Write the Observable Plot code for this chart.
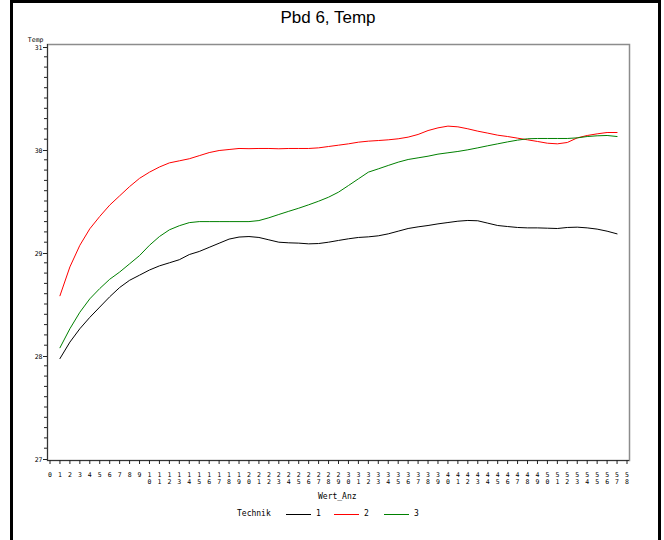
<!DOCTYPE html>
<html><head><meta charset="utf-8">
<script src="https://cdn.jsdelivr.net/npm/d3@7"></script>
<script src="https://cdn.jsdelivr.net/npm/@observablehq/plot@0.6"></script>
<style>
html,body{margin:0;padding:0;background:#fff;}
#wrap{position:relative;width:664px;height:540px;overflow:hidden;background:#fff;}
#wrap svg{position:absolute;left:0;top:0;}
.border{position:absolute;left:10px;top:0;width:645px;height:560px;border:3px solid #000;border-bottom:none;}
.title{position:absolute;left:0;width:656px;top:8px;text-align:center;font:17px "Liberation Sans",Arial,sans-serif;color:#000;}
.lab{position:absolute;font:8px "DejaVu Sans Mono",monospace;white-space:pre;color:#000;line-height:8px;}
.key{position:absolute;height:0;width:25px;border-top:1.2px solid #000;}
</style></head><body><div id="wrap"></div>
<script>
// ---- data ----
const titleText = "Pbd 6, Temp";
const xLabel = "Wert_Anz";
const yLabel = "Temp";
const legendTitle = "Technik";
const series = ["1", "2", "3"];
const seriesColors = ["#000000", "#ff0000", "#008000"];

const wertAnz = [1,2,3,4,5,6,7,8,9,10,11,12,13,14,15,16,17,18,19,20,21,22,23,24,25,26,27,28,29,30,31,32,33,34,35,36,37,38,39,40,41,42,43,44,45,46,47,48,49,50,51,52,53,54,55,56,57];

const temp1 = [27.97,28.13,28.26,28.37,28.47,28.57,28.66,28.73,28.78,28.83,28.87,28.90,28.93,28.98,29.01,29.05,29.09,29.13,29.15,29.155,
  29.146,29.123,29.10,29.094,29.091,29.084,29.087,29.10,29.117,29.133,29.146,29.152,29.162,29.181,29.207,29.233,29.249,29.262,29.278,29.291,
  29.304,29.311,29.308,29.285,29.262,29.252,29.243,29.239,29.239,29.236,29.233,29.243,29.246,29.239,29.227,29.207,29.181];

const temp2 = [28.58,28.86,29.07,29.23,29.35,29.46,29.55,29.64,29.72,29.78,29.83,29.87,29.89,29.91,29.94,29.97,29.99,30.00,30.01,30.008,
  30.01,30.01,30.007,30.01,30.01,30.01,30.016,30.029,30.042,30.055,30.071,30.081,30.087,30.094,30.104,30.12,30.146,30.184,30.21,30.227,
  30.22,30.201,30.178,30.159,30.139,30.126,30.11,30.094,30.078,30.061,30.055,30.068,30.113,30.136,30.152,30.165,30.165];

const temp3 = [28.075,28.26,28.42,28.55,28.65,28.74,28.81,28.89,28.97,29.07,29.155,29.22,29.26,29.29,29.30,29.30,29.30,29.30,29.30,29.30,
  29.31,29.337,29.369,29.40,29.43,29.463,29.498,29.537,29.586,29.65,29.715,29.78,29.812,29.845,29.877,29.903,29.919,29.935,29.955,29.968,
  29.981,29.997,30.016,30.036,30.055,30.074,30.091,30.104,30.107,30.107,30.107,30.107,30.113,30.126,30.133,30.136,30.126];

const xTicks = [0,1,2,3,4,5,6,7,8,9,10,11,12,13,14,15,16,17,18,19,20,21,22,23,24,25,26,27,28,29,30,31,32,33,34,35,36,37,38,39,40,41,42,43,44,45,46,47,48,49,50,51,52,53,54,55,56,57,58];
const yMajor = [27, 28, 29, 30, 31];

// ---- build ----
const values = [temp1, temp2, temp3];
const rows = [];
series.forEach((s, si) => wertAnz.forEach((x, i) => rows.push({x, y: values[si][i], s})));
const yMinor = d3.range(270, 311).map(d => d / 10).filter(d => !yMajor.includes(d));
const mono = "DejaVu Sans Mono";

const chart = Plot.plot({
  width: 664, height: 540,
  marginLeft: 47, marginRight: 35, marginTop: 44, marginBottom: 80,
  x: {domain: [0, 58], insetLeft: 2.5, insetRight: 2.5, axis: null},
  y: {domain: [27, 31], insetTop: 2, insetBottom: 2, axis: null},
  color: {domain: series, range: seriesColors},
  style: {background: "transparent", overflow: "visible"},
  marks: [
    Plot.frame({stroke: "#8c8c8c", strokeWidth: 1.5}),
    Plot.ruleX([0], {dx: -2.5, stroke: "#333"}),
    Plot.ruleY([27], {dy: 2, stroke: "#333"}),
    Plot.axisY(yMinor, {tickSize: 3, tickFormat: () => "", label: null, stroke: "#222"}),
    Plot.axisY(yMajor, {tickSize: 4, tickPadding: 1, label: null, stroke: "#222", fontSize: 6.5, fontFamily: mono, dy: 1, tickFormat: d => String(d)}),
    Plot.text([yLabel], {frameAnchor: "top-left", dx: -4, dy: -3, textAnchor: "end", lineAnchor: "bottom", fontSize: 6.5, fontFamily: mono}),
    Plot.axisX(xTicks, {tickSize: 4, tickFormat: () => "", label: null, stroke: "#222"}),
    Plot.text(xTicks, {x: d => d, text: d => d < 10 ? String(d) : String(Math.floor(d / 10)), frameAnchor: "bottom", dy: 14.5, lineAnchor: "middle", fontSize: 6.5, fontFamily: mono}),
    Plot.text(xTicks.filter(d => d >= 10), {x: d => d, text: d => String(d % 10), frameAnchor: "bottom", dy: 21.5, lineAnchor: "middle", fontSize: 6.5, fontFamily: mono}),
    Plot.line(rows, {x: "x", y: "y", z: "s", stroke: "s", strokeWidth: 1, curve: "linear"})
  ]
});

const wrap = document.getElementById("wrap");
wrap.appendChild(chart);

function add(cls, text, style) {
  const el = document.createElement("div");
  el.className = cls;
  if (text != null) el.textContent = text;
  Object.assign(el.style, style);
  wrap.appendChild(el);
  return el;
}
add("border", null, {});
add("title", titleText, {});
add("lab", xLabel, {left: "318px", top: "493px"});
add("lab", legendTitle, {left: "237px", top: "510px"});
const keyX = [286, 334, 384];
series.forEach((s, i) => {
  add("key", null, {left: keyX[i] + "px", top: "514px", borderTopColor: seriesColors[i]});
  add("lab", s, {left: (keyX[i] + 30) + "px", top: "510px"});
});
</script></body></html>
